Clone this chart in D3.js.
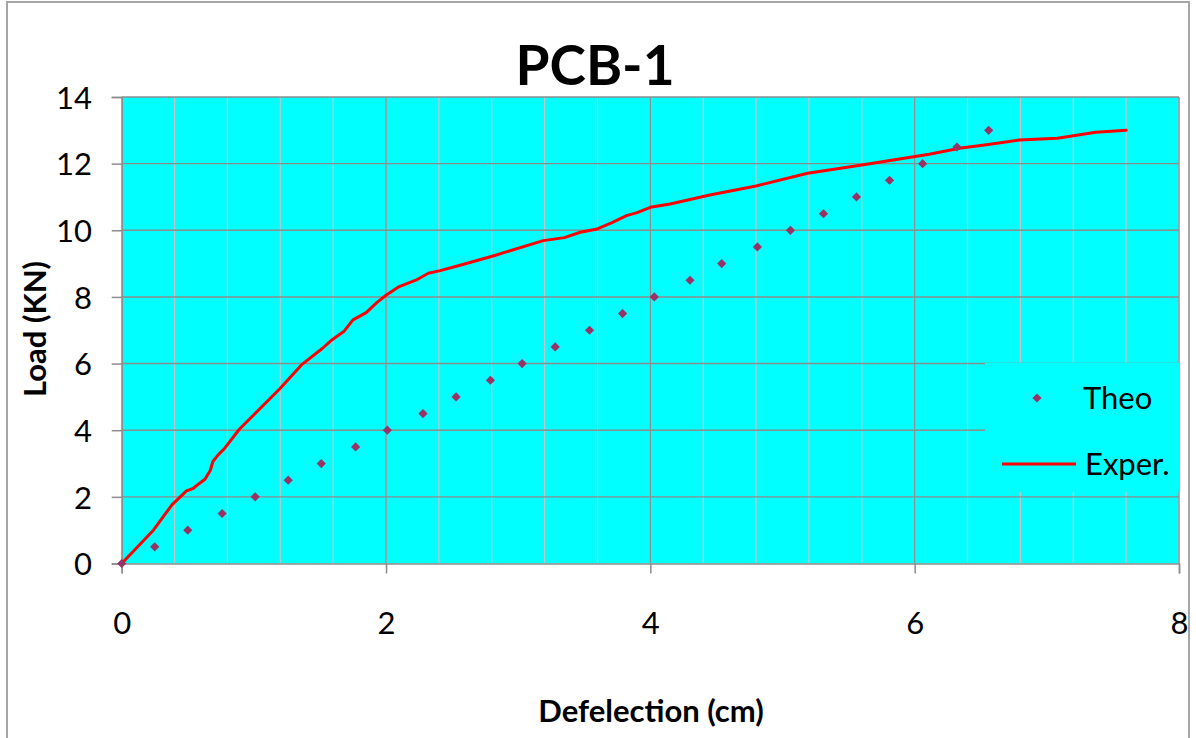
<!DOCTYPE html>
<html>
<head>
<meta charset="utf-8">
<script src="https://cdn.jsdelivr.net/npm/d3@7"></script>
<style>
  html, body { margin: 0; padding: 0; background: #fff; }
  svg { display: block; }
  text { font-family: Lato, "Open Sans", sans-serif; fill: #000; }
</style>
</head>
<body>
<svg id="chart" width="1196" height="738"></svg>
<script>
// ---- data ----
const theoX = [0, 0.25, 0.50, 0.76, 1.01, 1.26, 1.51, 1.77, 2.01, 2.28, 2.53, 2.79, 3.03, 3.28, 3.54, 3.79, 4.03, 4.30, 4.54, 4.81, 5.06, 5.31, 5.56, 5.81, 6.06, 6.32, 6.56];
const theoY = [0, 0.5, 1.0, 1.5, 2.0, 2.5, 3.0, 3.5, 4.0, 4.5, 5.0, 5.5, 6.0, 6.5, 7.0, 7.5, 8.0, 8.5, 9.0, 9.5, 10.0, 10.5, 11.0, 11.5, 12.0, 12.5, 13.0];
const experX = [0, 0.24, 0.38, 0.49, 0.54, 0.59, 0.63, 0.67, 0.69, 0.73, 0.78, 0.89, 1.20, 1.36, 1.52, 1.59, 1.68, 1.75, 1.85, 1.93, 2.00, 2.10, 2.23, 2.32, 2.41, 2.56, 2.81, 3.19, 3.35, 3.47, 3.59, 3.71, 3.82, 3.90, 4.00, 4.15, 4.45, 4.80, 5.19, 5.60, 6.11, 6.35, 6.53, 6.79, 7.08, 7.37, 7.60];
const experY = [0, 1.00, 1.76, 2.18, 2.25, 2.41, 2.53, 2.79, 3.06, 3.26, 3.46, 4.03, 5.26, 5.96, 6.46, 6.71, 6.96, 7.31, 7.53, 7.83, 8.05, 8.31, 8.51, 8.71, 8.79, 8.95, 9.23, 9.69, 9.78, 9.94, 10.03, 10.23, 10.44, 10.53, 10.69, 10.79, 11.06, 11.33, 11.71, 11.96, 12.28, 12.47, 12.56, 12.71, 12.76, 12.94, 13.00];
const xTicks = [0, 2, 4, 6, 8];
const xMinorGrid = d3.range(0, 8.001, 0.4);
const yTicks = [0, 2, 4, 6, 8, 10, 12, 14];
const seriesNames = ["Theo", "Exper."];
const titleText = "PCB-1";
const xTitle = "Defelection (cm)";
const yTitle = "Load (KN)";

// ---- layout ----
const L = 121.7, R = 1179, T = 97, B = 563.5;
const svg = d3.select("#chart");
const x = d3.scaleLinear().domain([0, 8]).range([L, R]);
const y = d3.scaleLinear().domain([0, 14]).range([B, T]);

// outer chart border
svg.append("rect").attr("x", 7).attr("y", 2).attr("width", 1182).attr("height", 780)
  .attr("fill", "#fff").attr("stroke", "#a6a6a6").attr("stroke-width", 2);

// plot area
svg.append("rect").attr("x", L).attr("y", T).attr("width", R - L).attr("height", B - T)
  .attr("fill", "#00ffff");

// minor vertical grid
svg.append("g").selectAll("line").data(xMinorGrid).join("line")
  .attr("x1", d => x(d)).attr("x2", d => x(d)).attr("y1", T).attr("y2", B)
  .attr("stroke", "#c4c4c4").attr("stroke-width", 1.2);
// major vertical grid
svg.append("g").selectAll("line").data(xTicks.filter(d => d > 0)).join("line")
  .attr("x1", d => x(d)).attr("x2", d => x(d)).attr("y1", T).attr("y2", B)
  .attr("stroke", "#8c8c8c").attr("stroke-width", 1.2);
// horizontal grid
svg.append("g").selectAll("line").data(yTicks.filter(d => d > 0)).join("line")
  .attr("x1", L).attr("x2", R).attr("y1", d => y(d)).attr("y2", d => y(d))
  .attr("stroke", "#8c8c8c").attr("stroke-width", 1.4);

// legend box (covers grid)
svg.append("rect").attr("x", 985).attr("y", 363).attr("width", R - 985 + 0.5).attr("height", 129)
  .attr("fill", "#00ffff");

// axes
const yAxis = svg.append("g").attr("transform", `translate(${L},0)`)
  .call(d3.axisLeft(y).tickValues(yTicks).tickSize(10).tickPadding(19.7).tickFormat(d3.format("d")));
const xAxis = svg.append("g").attr("transform", `translate(0,${B})`)
  .call(d3.axisBottom(x).tickValues(xTicks).tickSize(10).tickFormat(d3.format("d")));
[yAxis, xAxis].forEach(g => {
  g.select(".domain").attr("stroke", "#8c8c8c").attr("stroke-width", 1.5);
  g.selectAll(".tick line").attr("stroke", "#8c8c8c").attr("stroke-width", 1.5);
  g.selectAll("text").attr("font-family", "Lato, sans-serif").attr("font-size", 31).attr("fill", "#000");
});
xAxis.selectAll("text").attr("y", 70.5).attr("dy", null);
yAxis.selectAll("text").attr("dy", "0.36em");

// Exper line
const experData = experX.map((v, i) => [v, experY[i]]);
svg.append("path").datum(experData)
  .attr("fill", "none").attr("stroke", "#ff0000").attr("stroke-width", 3)
  .attr("stroke-linejoin", "round").attr("stroke-linecap", "round")
  .attr("d", d3.line().x(d => x(d[0])).y(d => y(d[1])));

// Theo markers
const theoData = theoX.map((v, i) => [v, theoY[i]]);
const diamond = d3.symbol().type(d3.symbolDiamond2).size(54);
svg.append("g").selectAll("path").data(theoData).join("path")
  .attr("d", diamond).attr("fill", "#993366")
  .attr("transform", d => `translate(${x(d[0])},${y(d[1])})`);

// legend
svg.append("path").attr("d", diamond).attr("fill", "#993366").attr("transform", "translate(1037,398)");
svg.append("text").attr("x", 1083).attr("y", 398).attr("dy", "0.36em").attr("font-size", 31).text(seriesNames[0]);
svg.append("line").attr("x1", 1002).attr("x2", 1076).attr("y1", 464).attr("y2", 464)
  .attr("stroke", "#ff0000").attr("stroke-width", 3);
svg.append("text").attr("x", 1085).attr("y", 464).attr("dy", "0.36em").attr("font-size", 31).text(seriesNames[1]);

// titles
svg.append("text").attr("x", 595).attr("y", 85).attr("text-anchor", "middle")
  .attr("font-size", 55).attr("font-weight", "bold").text(titleText);
svg.append("text").attr("x", 651).attr("y", 722).attr("text-anchor", "middle")
  .attr("font-size", 31).attr("font-weight", "bold").text(xTitle);
svg.append("text").attr("transform", "translate(46,329) rotate(-90)").attr("text-anchor", "middle")
  .attr("font-size", 31).attr("font-weight", "bold").text(yTitle);
</script>
</body>
</html>
